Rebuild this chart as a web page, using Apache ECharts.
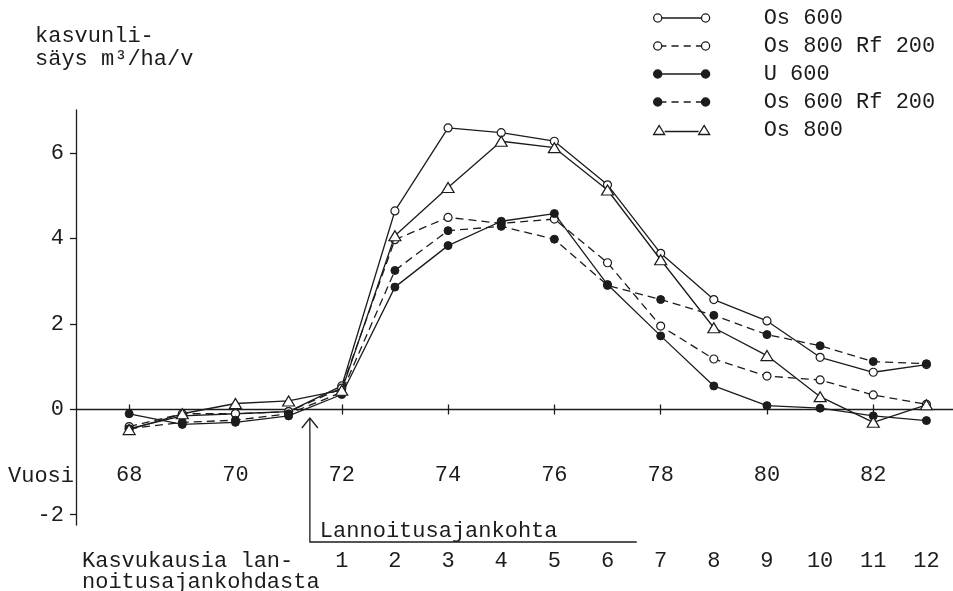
<!DOCTYPE html>
<html><head><meta charset="utf-8">
<script src="https://cdn.jsdelivr.net/npm/echarts@6/dist/echarts.min.js"></script>
<style>html,body{margin:0;padding:0;background:#fff}#c{width:953px;height:591px}</style>
</head><body><div id="c"></div>
<script>
// ---- data ----
const years = [68,69,70,71,72,73,74,75,76,77,78,79,80,81,82,83];
const os600      = [-0.45,-0.15,-0.10,-0.05,0.55,4.64,6.58,6.47,6.27,5.25,3.65,2.57,2.07,1.22,0.87,1.05];
const os800rf200 = [-0.40,-0.10,-0.10,-0.05,0.50,3.97,4.49,4.35,4.45,3.43,1.95,1.18,0.78,0.69,0.34,0.12];
const u600       = [-0.10,-0.35,-0.30,-0.15,0.35,2.86,3.83,4.40,4.58,2.92,1.72,0.55,0.09,0.03,-0.15,-0.26];
const os600rf200 = [-0.45,-0.30,-0.25,-0.10,0.40,3.25,4.18,4.28,3.98,2.90,2.57,2.20,1.75,1.49,1.12,1.07];
const os800      = [-0.47,-0.10,0.14,0.20,0.45,4.06,5.19,6.27,6.12,5.13,3.50,1.91,1.26,0.30,-0.30,0.11];
const seriesNames = ['Os 600','Os 800 Rf 200','U 600','Os 600 Rf 200','Os 800'];
const yTicks = [-2,0,2,4,6];
const yearTicks = [68,70,72,74,76,78,80,82];
const seasonYears = [72,73,74,75,76,77,78,79,80,81,82,83];
const seasonLabels = ['1','2','3','4','5','6','7','8','9','10','11','12'];

// ---- styling ----
const INK = '#1c1c1c';
const FONT = 'Liberation Mono';
const FS = 22;
const DASH = [8,5];
const pairs = arr => years.map((y,i) => [y, arr[i]]);
// the original figure's axis is drawn stretched below zero (the "Vuosi" row sits in that gap)
const NEG_STRETCH = 1.23;
const tickPos = v => v < 0 ? v * NEG_STRETCH : v;
const tickLabel = v => { const t = v < 0 ? v / NEG_STRETCH : v; return String(Math.round(t)); };

const openStyle = {color:'#fff', borderColor:INK, borderWidth:1.2};
const fillStyle = {color:INK, borderColor:INK, borderWidth:1};
const seriesDefs = [
  {data: os600, symbol:'circle', size:8, item: openStyle, dash:'solid'},
  {data: os800rf200, symbol:'circle', size:8, item: openStyle, dash:DASH},
  {data: u600, symbol:'circle', size:8, item: fillStyle, dash:'solid'},
  {data: os600rf200, symbol:'circle', size:8, item: fillStyle, dash:DASH},
  {data: os800, symbol:'triangle', size:[12,10], item: openStyle, dash:'solid'}
];

const circ = (cx) => `M${cx-4},5.5 A4,4 0 1,1 ${cx+4},5.5 A4,4 0 1,1 ${cx-4},5.5 Z`;
const solidSeg = 'M8.5,5.5 L47.5,5.5';
const dashSeg = 'M8.5,5.5 L13,5.5 M18,5.5 L25,5.5 M30,5.5 L37,5.5 M42,5.5 L47.5,5.5';
const iconOpenSolid = 'path://' + circ(4.5) + ' ' + solidSeg + ' ' + circ(51.5);
const iconOpenDash  = 'path://' + circ(4.5) + ' ' + dashSeg + ' ' + circ(51.5);
const iconTri = 'path://M0,10 L5.5,1 L11,10 Z M11,7 L45,7 M45,10 L50.5,1 L56,10 Z';
const legendIcons = [iconOpenSolid, iconOpenDash, iconOpenSolid, iconOpenDash, iconTri];

const chart = echarts.init(document.getElementById('c'), null, {renderer:'canvas'});
const txt = {fontFamily: FONT, fontSize: FS, color: INK};

const GRID_TOP = 110, GRID_BOTTOM = 66;
const Y_MIN = -2.7, Y_MAX = 7;
const gridH = 591 - GRID_TOP - GRID_BOTTOM;
const zeroOffset = -gridH * (0 - Y_MIN) / (Y_MAX - Y_MIN); // from grid bottom up to y=0

const option = {
  backgroundColor: '#fff',
  animation: false,
  textStyle: {fontFamily: FONT},
  grid: {left: 76, right: 0, top: GRID_TOP, bottom: GRID_BOTTOM, containLabel: false, outerBoundsMode: 'none'},
  legend: {
    orient: 'vertical', left: 648, top: 0, itemWidth: 56, itemHeight: 11, itemGap: 2,
    selectedMode: false,
    textStyle: {fontFamily: FONT, fontSize: FS, color: INK, lineHeight: 22, padding: [4,0,0,49]},
    data: seriesNames.map((n,i) => ({
      name: n, icon: legendIcons[i],
      itemStyle: i === 2 || i === 3 ? {color: INK, borderColor: INK, borderWidth: 1.3} : {color:'#fff', borderColor: INK, borderWidth: 1.3}
    }))
  },
  xAxis: [
    { type:'value', min:67, max:83.5, position:'bottom',
      axisLine:{show:true, onZero:true, lineStyle:{color:INK, width:1.3}},
      axisTick:{show:true, length:5, customValues: yearTicks, lineStyle:{color:INK, width:1.3}},
      axisLabel:{show:false},
      splitLine:{show:false} },
    { type:'value', min:67, max:83.5, position:'top',
      axisLine:{show:false, onZero:true, onZeroAxisIndex:1},
      axisTick:{show:true, length:5, customValues: yearTicks, lineStyle:{color:INK, width:1.3}},
      axisLabel:{show:false}, splitLine:{show:false} },
    { type:'value', min:67, max:83.5, position:'bottom',
      axisLine:{show:false, onZero:false}, axisTick:{show:false},
      axisLabel:{show:true, customValues: seasonYears, margin:25, ...txt,
        formatter: v => seasonLabels[seasonYears.indexOf(Math.round(v))] || ''},
      splitLine:{show:false} },
    { type:'value', min:67, max:83.5, position:'bottom', offset: zeroOffset,
      axisLine:{show:false, onZero:false}, axisTick:{show:false},
      axisLabel:{show:true, customValues: yearTicks, margin:55, ...txt},
      splitLine:{show:false} }
  ],
  yAxis: [
    { type:'value', min:Y_MIN, max:Y_MAX, position:'left',
      axisLine:{show:true, onZero:false, lineStyle:{color:INK, width:1.3}},
      axisTick:{show:true, length:6, customValues: yTicks.map(tickPos), lineStyle:{color:INK, width:1.3}},
      axisLabel:{show:true, customValues: yTicks.map(tickPos), formatter: tickLabel, margin:12, ...txt},
      splitLine:{show:false} },
    { type:'value', min:Y_MIN, max:Y_MAX, position:'right', show:false,
      axisLine:{show:false, onZero:false}, splitLine:{show:false} }
  ],
  series: seriesDefs.map((d,i) => ({
    name: seriesNames[i], type:'line', xAxisIndex:0, yAxisIndex:0,
    data: pairs(d.data), symbol: d.symbol, symbolSize: d.size, showSymbol: true,
    lineStyle:{color:INK, width:1.3, type: d.dash},
    itemStyle: d.item, z: 2 + i,
    emphasis:{disabled:true}
  }))
};
chart.setOption(option);

// annotations
const ax = chart.convertToPixel({xAxisIndex:0}, 71.4);
const axEnd = chart.convertToPixel({xAxisIndex:0}, 77.55);
const tstyle = (text, x, baseline) => ({type:'text', silent:true, style:{text, x, y: baseline - 6, fill: INK, fontFamily: FONT, fontSize: FS, verticalAlign:'middle', align:'left'}});
chart.setOption({
  graphic: [
    tstyle('kasvunli-', 35, 42),
    tstyle('säys m³/ha/v', 35, 65),
    tstyle('Vuosi', 8, 482),
    tstyle('Lannoitusajankohta', ax + 10, 537),
    tstyle('Kasvukausia lan-', 82, 567),
    tstyle('noitusajankohdasta', 82, 588),
    {type:'polyline', silent:true, shape:{points:[[ax,418],[ax,542],[axEnd,542]]}, style:{stroke:INK, lineWidth:1.3, fill:null}},
    {type:'polyline', silent:true, shape:{points:[[ax-8,428],[ax,418],[ax+8,428]]}, style:{stroke:INK, lineWidth:1.3, fill:null}}
  ]
});
</script></body></html>
